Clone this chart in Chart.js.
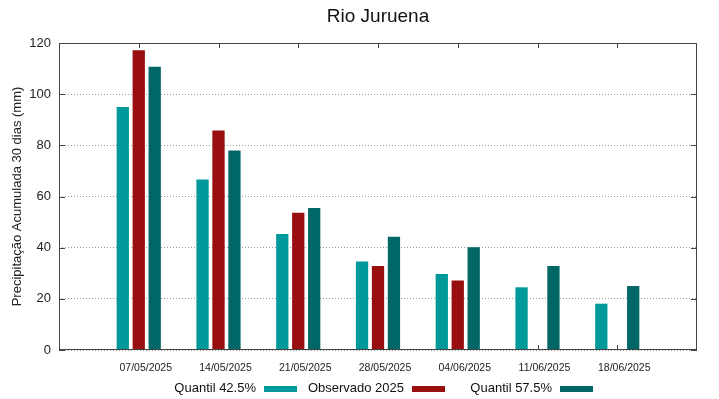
<!DOCTYPE html>
<html>
<head>
<meta charset="utf-8">
<script src="https://cdn.jsdelivr.net/npm/chart.js@4.4.1/dist/chart.umd.min.js"></script>
<style>
  body { margin: 0; background: #fff; }
  #wrap { position: relative; width: 719px; height: 399px; }
  #legend {
    position: absolute; left: 149px; top: 380px; height: 16px;
    display: flex; font: 13px "Liberation Sans", Arial, sans-serif; color: #111;
  }
  #legend .item {
    width: 148px; display: flex; justify-content: flex-end; align-items: center;
    line-height: 16px; white-space: nowrap;
  }
  #legend .swatch { width: 33px; height: 6px; margin-left: 8px; position: relative; top: 1px; }
</style>
</head>
<body>
<div id="wrap">
  <canvas id="chart"></canvas>
  <div id="legend"></div>
</div>
<script>
const chartTitle = "Rio Juruena";
const yTitle = "Precipitação Acumulada 30 dias (mm)";
const dates = ["07/05/2025", "14/05/2025", "21/05/2025", "28/05/2025", "04/06/2025", "11/06/2025", "18/06/2025"];
const quantil425 = [95.0, 66.6, 45.3, 34.6, 29.7, 24.5, 18.1];
const observado2025 = [117.2, 85.8, 53.6, 32.8, 27.2, null, null];
const quantil575 = [110.7, 78.0, 55.5, 44.3, 40.2, 32.8, 25.0];
const seriesNames = ["Quantil 42.5%", "Observado 2025", "Quantil 57.5%"];
const seriesColors = ["#009999", "#990e0e", "#006666"];

// gnuplot style: an empty slot before and after the dates
const labels = ["", ...dates, ""];
const pad = arr => [null, ...arr, null];

Chart.defaults.font.family = '"Liberation Sans", Arial, sans-serif';
Chart.defaults.color = "#222";

// --- frame, inward ticks and title ---
const framePlugin = {
  id: "frame",
  beforeDatasetsDraw(chart) {
    const { ctx, chartArea: a, scales } = chart;
    ctx.save();
    ctx.strokeStyle = "#444";
    ctx.lineWidth = 1;
    ctx.beginPath();
    for (let i = 1; i < labels.length - 1; i++) {
      const px = Math.round(scales.x.getPixelForTick(i)) + 0.5;
      ctx.moveTo(px, a.top); ctx.lineTo(px, a.top + 5);
      ctx.moveTo(px, a.bottom); ctx.lineTo(px, a.bottom - 5);
    }
    scales.y.ticks.forEach((t, i) => {
      const py = Math.round(scales.y.getPixelForTick(i)) + 0.5;
      ctx.moveTo(a.left, py); ctx.lineTo(a.left + 6, py);
      ctx.moveTo(a.right, py); ctx.lineTo(a.right - 6, py);
    });
    ctx.stroke();
    ctx.restore();
  },
  afterDatasetsDraw(chart) {
    const { ctx, chartArea: a } = chart;
    ctx.save();
    ctx.strokeStyle = "#444";
    ctx.lineWidth = 1;
    ctx.strokeRect(Math.round(a.left) + 0.5, Math.round(a.top) + 0.5,
      Math.round(a.right - a.left) - 1, Math.round(a.bottom - a.top) - 1);
    ctx.fillStyle = "#111";
    ctx.font = '19px "Liberation Sans", Arial, sans-serif';
    ctx.textAlign = "center";
    ctx.textBaseline = "alphabetic";
    ctx.fillText(chartTitle, (a.left + a.right) / 2, 22);
    ctx.restore();
  }
};

const datasets = [quantil425, observado2025, quantil575].map((vals, i) => ({
  label: seriesNames[i],
  data: pad(vals),
  backgroundColor: seriesColors[i],
  borderWidth: 0,
  categoryPercentage: 0.6,
  barPercentage: 0.77
}));

new Chart(document.getElementById("chart"), {
  type: "bar",
  data: { labels: labels, datasets: datasets },
  options: {
    responsive: true,
    maintainAspectRatio: false,
    animation: false,
    layout: { padding: { top: 43, right: 22, bottom: 0, left: 0 } },
    plugins: {
      legend: { display: false },
      title: { display: false },
      tooltip: { enabled: false }
    },
    scales: {
      x: {
        offset: false,
        grid: { display: false },
        border: { display: false },
        ticks: {
          font: { size: 10.5 },
          color: "#222",
          padding: 4,
          labelOffset: 7,
          maxRotation: 0,
          autoSkip: false
        },
        afterFit: s => { s.height = 49; }
      },
      y: {
        min: 0,
        max: 120,
        grid: { color: "#9a9a9a", drawTicks: false },
        border: { display: false, dash: [1, 2] },
        ticks: { stepSize: 20, font: { size: 13 }, color: "#222", padding: 8 },
        title: {
          display: true,
          text: yTitle,
          font: { size: 13 },
          color: "#222",
          padding: { top: 10, bottom: 0 }
        },
        afterFit: s => { s.width = 59; }
      }
    }
  },
  plugins: [framePlugin]
});

// --- legend: text then colour sample ---
const legendDiv = document.getElementById("legend");
seriesNames.forEach((name, i) => {
  const item = document.createElement("div");
  item.className = "item";
  const txt = document.createElement("span");
  txt.textContent = name;
  const sw = document.createElement("span");
  sw.className = "swatch";
  sw.style.background = seriesColors[i];
  item.appendChild(txt);
  item.appendChild(sw);
  legendDiv.appendChild(item);
});
</script>
</body>
</html>
